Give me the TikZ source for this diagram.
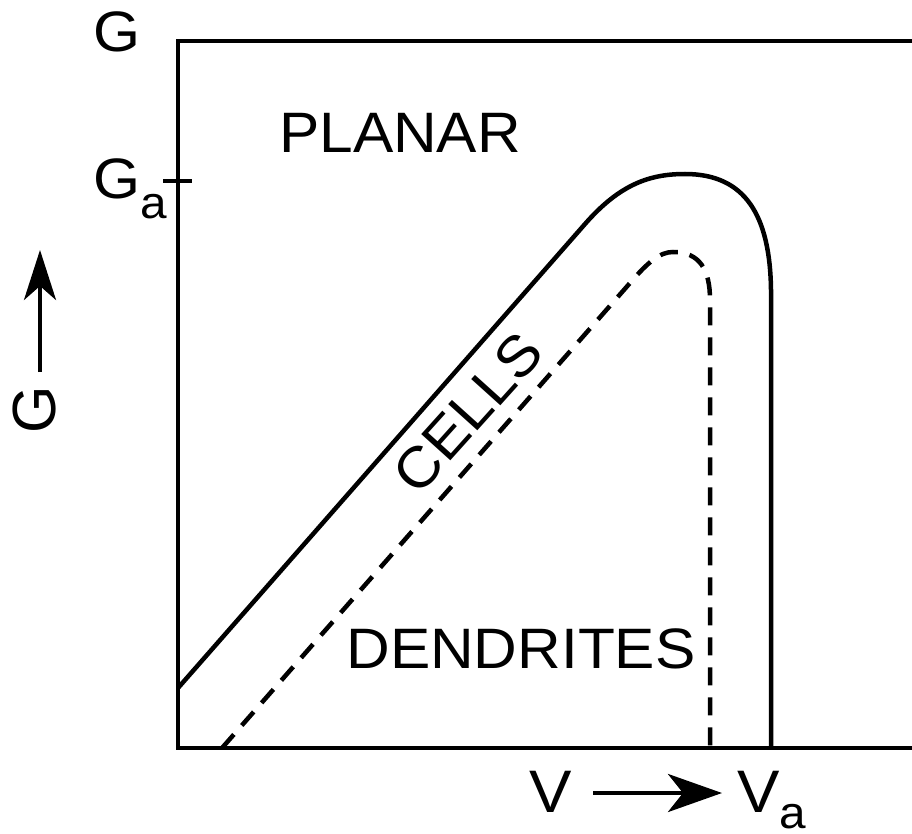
\documentclass[tikz,border=0pt]{standalone}
\usepackage{fontspec}
\setmainfont{Liberation Sans}[FakeStretch=1.06]
\newfontfamily\plainfont{Liberation Sans}
\usetikzlibrary{arrows.meta}
\tikzset{
  lbl/.style={inner sep=0pt, outer sep=0pt, anchor=base, font=\fontsize{57}{60}\selectfont},
  axlbl/.style={inner sep=0pt, outer sep=0pt, anchor=base, font=\fontsize{60}{64}\selectfont},
  sublbl/.style={inner sep=0pt, outer sep=0pt, anchor=base, font=\fontsize{45}{48}\selectfont},
  thick line/.style={line width=4.5pt},
  dashline/.style={line width=4.5pt, dash pattern=on 18pt off 12pt},
  arr/.style={line width=4.5pt, -{Stealth[length=54pt, width=38pt, inset=15pt]}},
}
\begin{document}
\begin{tikzpicture}[x=1pt, y=-1pt]
\useasboundingbox (0,0) rectangle (912,834);
% axes
\draw[thick line] (912,41) -- (178,41) -- (178,748) -- (912,748);
% Ga tick
\coordinate (t0) at (163,181);
\coordinate (t1) at (192,181);
\draw[line width=4pt] (t0) -- (t1);
% solid boundary
\draw[thick line, line join=round] (178,688) -- (585,224)
  .. controls (620,184) and (650,174) .. (685,174)
  .. controls (745,174) and (770,215) .. (771,290) -- (771,748);
% dashed boundary
\draw[dashline] (222,748) -- (630,283)
  .. controls (648,262) and (660,252) .. (673,252)
  .. controls (700,252) and (710,270) .. (710,300) -- (710,748);
% labels
\node[lbl] (g) at (117,52) {G};
\node[lbl] (ga) at (117,199) {G};
\node[sublbl] (gasub) at (153.5,219) {a};
\node[lbl] (planar) at (400,153) {PLANAR};
\node[lbl] (dendrites) at (521,668) {DENDRITES};
\node[inner sep=0pt, font=\fontsize{57}{60}\selectfont, rotate=48] (cells) at (468,413) {CELLS};
% axis labels
\node[inner sep=0pt, font=\plainfont\fontsize{61}{64}\selectfont, rotate=90] (gax) at (35,410) {G};
\coordinate (ga0) at (40,372);
\coordinate (ga1) at (40,250);
\draw[arr, line width=4pt, -{Stealth[length=50pt, width=32pt, inset=14pt]}] (ga0) -- (ga1);
\node[axlbl] (v) at (551,812) {V};
\coordinate (va0) at (593,793);
\coordinate (va1) at (722,793);
\draw[arr] (va0) -- (va1);
\node[axlbl] (va) at (759,812) {V};
\node[sublbl] (vasub) at (792.5,828) {a};
\end{tikzpicture}
\end{document}
